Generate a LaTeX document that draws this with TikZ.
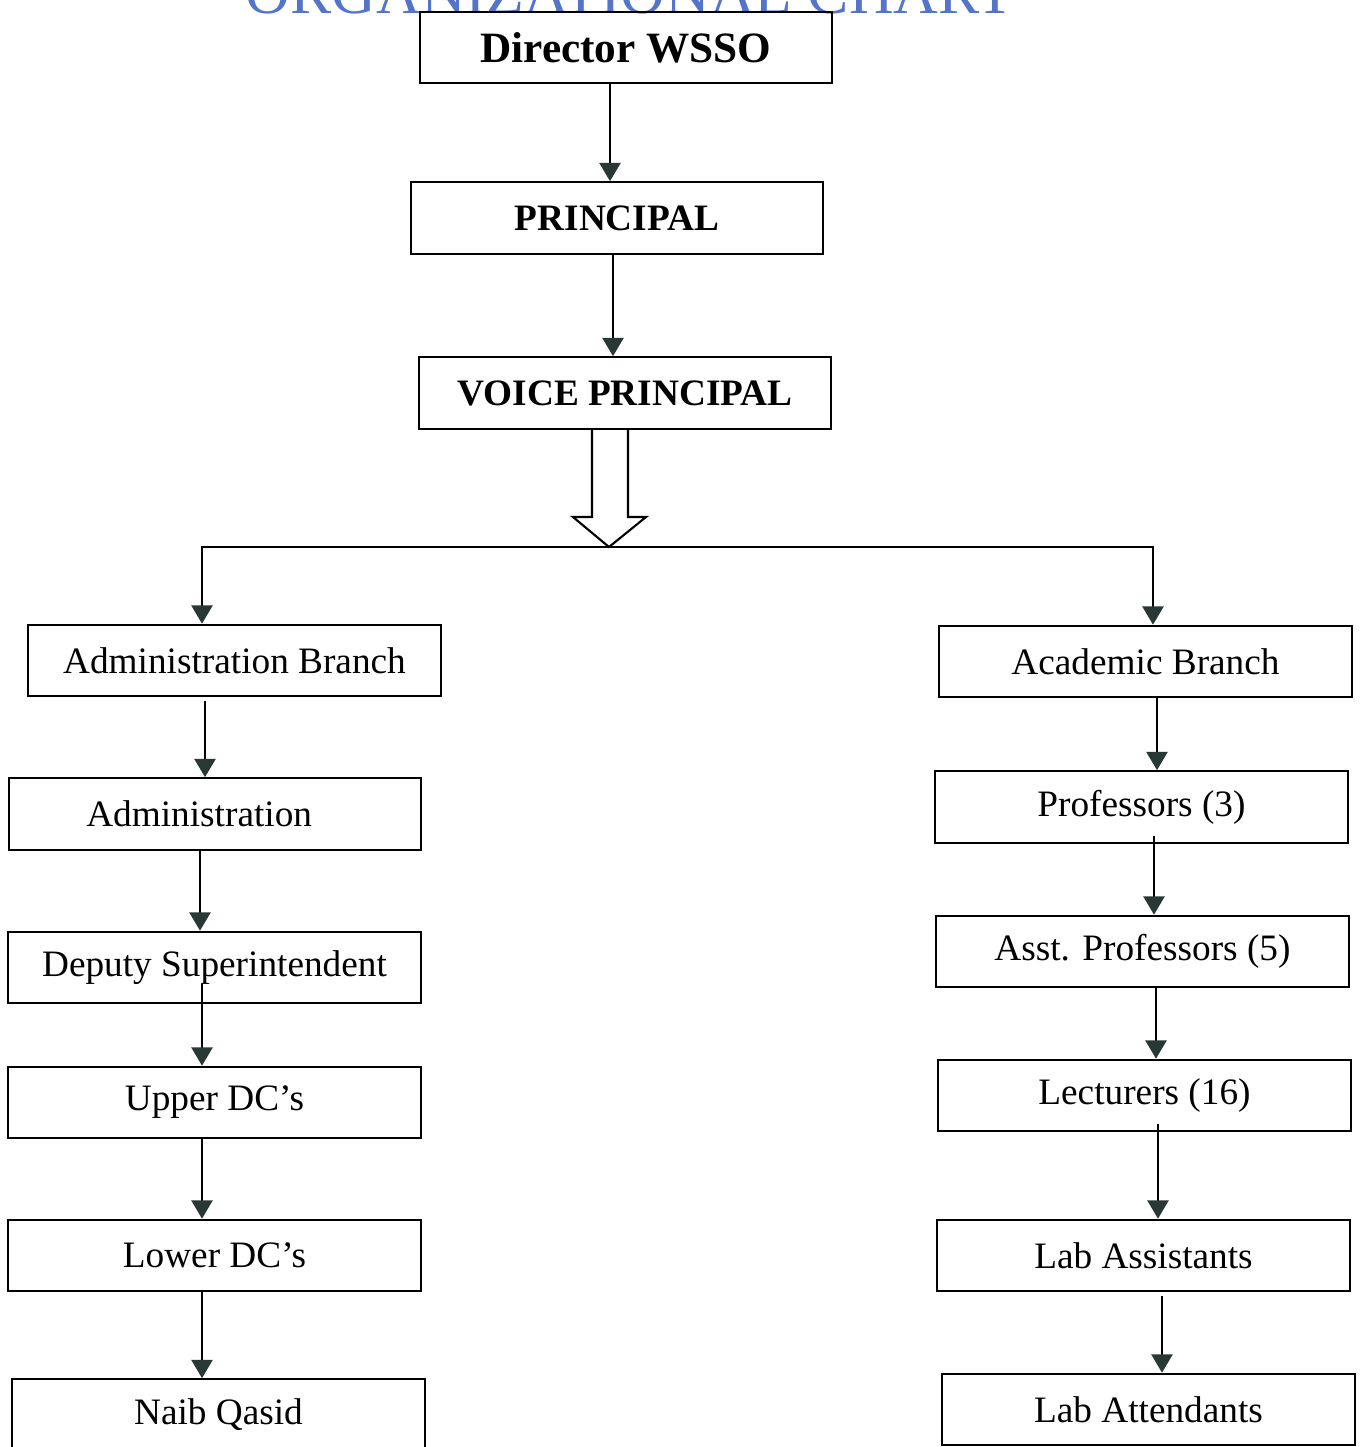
\documentclass[tikz,border=0pt]{standalone}
\usepackage{fontspec}
\setmainfont{Liberation Serif}
\usetikzlibrary{positioning, arrows.meta, calc}
\definecolor{titleblue}{RGB}{84,116,200}
\definecolor{tipgray}{RGB}{40,56,52}

\begin{document}
\begin{tikzpicture}[x=0.01cm, y=-0.01cm,
    box/.style={rectangle, draw, line width=0.6pt, minimum width=4.12cm, minimum height=0.715cm, inner sep=0pt, font=\fontsize{10.6}{12}\selectfont},
    headbox/.style={box, font=\fontsize{10.6}{12}\selectfont\bfseries},
    arr/.style={line width=0.6pt, -{Triangle[width=6pt, length=5.2pt, color=tipgray]}},
    link/.style={line width=0.6pt},
  ]
  \useasboundingbox (0,0) rectangle (1361,1447);
  \clip (0,0) rectangle (1361,1447);

  % title, cut off at the top
  \node[text=titleblue, font=\fontsize{17.6}{20}\selectfont, anchor=base, inner sep=0pt] (title) at (630,13) {ORGANIZATIONAL CHART};

  % top of the chart
  \node[headbox, font=\fontsize{12.3}{14}\selectfont\bfseries] (dir) at (626,47.5) {Director WSSO};
  \node[headbox] (prin) at (617,218) {PRINCIPAL};
  \node[headbox] (vp) at (625,393) {VOICE PRINCIPAL};

  \draw[arr] (dir.south -| 610,0) -- (prin.north -| 610,0);
  \draw[arr] (prin.south -| 613,0) -- (vp.north -| 613,0);

  % hollow arrow and split
  \coordinate (split) at (609,547);
  \draw[link] (vp.south -| 592,0) -- (592,517) -- (573,517) -- (split) -- (646,517) -- (628,517) -- (vp.south -| 628,0);

  % administration branch
  \node[box] (adb) at (234.5,660.5) {Administration Branch};
  \node[box] (adm) at (215,814) {\hspace*{-9pt}Administration};
  \node[box] (dep) at (214.5,967.5) {Deputy Superintendent};
  \node[box] (udc) at (214.5,1102.5) {Upper DC’s};
  \node[box] (ldc) at (214.5,1255.5) {Lower DC’s};
  \node[box] (naib) at (218.5,1415) {Naib Qasid};

  % academic branch
  \node[box] (acb) at (1145.5,661.5) {Academic Branch};
  \node[box] (prof) at (1141.5,807) {Professors (3)};
  \node[box] (asst) at (1142.5,951.5) {Asst. Professors (5)};
  \node[box] (lect) at (1144.5,1095.5) {Lecturers (16)};
  \node[box] (labas) at (1143.5,1255.5) {Lab Assistants};
  \node[box] (labat) at (1148.5,1409.5) {Lab Attendants};

  \draw[link] (split) -- (1153,547);
  \draw[arr] (split) -| (adb.north -| 202,0);
  \draw[arr] (split) -| (acb.north -| 1153,0);

  \draw[arr] ($(adb.south -| 205,0)+(0,4)$) -- (adm.north -| 205,0);
  \draw[arr] (adm.south -| 200,0) -- (dep.north -| 200,0);
  \draw[arr] ($(dep.south -| 202,0)+(0,-20)$) -- (udc.north -| 202,0);
  \draw[arr] (udc.south -| 202,0) -- (ldc.north -| 202,0);
  \draw[arr] (ldc.south -| 202,0) -- (naib.north -| 202,0);

  \draw[arr] (acb.south -| 1157,0) -- (prof.north -| 1157,0);
  \draw[arr] ($(prof.south -| 1154,0)+(0,-8)$) -- (asst.north -| 1154,0);
  \draw[arr] (asst.south -| 1156,0) -- (lect.north -| 1156,0);
  \draw[arr] ($(lect.south -| 1158,0)+(0,-8)$) -- (labas.north -| 1158,0);
  \draw[arr] ($(labas.south -| 1162,0)+(0,4)$) -- (labat.north -| 1162,0);
\end{tikzpicture}
\end{document}
